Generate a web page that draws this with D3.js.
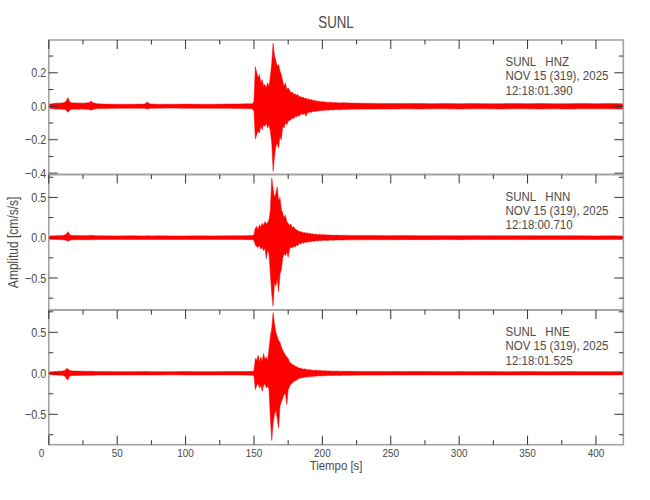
<!DOCTYPE html>
<html><head><meta charset="utf-8">
<script src="https://cdn.jsdelivr.net/npm/d3@7"></script>
<style>
html,body{margin:0;padding:0;background:#fff;}
svg{display:block;}
text{font-family:"Liberation Sans",Arial,sans-serif;fill:#4a4a4a;}
</style></head><body>
<svg id="chart" width="650" height="500"></svg>
<script>
// ---------------- data ----------------
const station = "SUNL";
const channels = ["HNZ", "HNN", "HNE"];
const dateLabel = "NOV 15 (319), 2025";
const startTimes = ["12:18:01.390", "12:18:00.710", "12:18:01.525"];
const xTickValues = [0, 50, 100, 150, 200, 250, 300, 350, 400];
const xMinorTicks = [25, 75, 125, 175, 225, 275, 325, 375];
const yTickValues = [[-0.4, -0.2, 0.0, 0.2], [-0.5, 0.0, 0.5], [-0.5, 0.0, 0.5]];
const yMinorTicks = [[-0.3, -0.1, 0.1, 0.3], [-0.75, -0.25, 0.25, 0.75], [-0.75, -0.25, 0.25, 0.75]];
const xDomain = [0, 420];
const yDomains = [[-0.408, 0.396], [-0.897, 0.784], [-0.871, 0.772]];

// sample times (s) of the amplitude envelope read from the record
const times = [
  0, 5, 10, 12, 13, 14, 15, 16, 18, 20, 25, 30, 31, 32, 35, 40, 50, 60, 70, 72, 74, 80, 90, 100, 110, 120, 130, 140, 145, 148,
  149, 150, 151, 152, 153, 154, 155, 156, 157, 158, 159, 160, 161, 162, 163, 164, 165, 166, 167, 168, 169, 170, 171, 172, 173, 174,
  175, 176, 177, 178, 179, 180, 181, 182, 183, 184, 185, 186, 187, 188, 189, 190, 191, 192, 193, 194, 195, 196, 197, 198, 199, 200,
  202, 204, 206, 208, 210, 212, 215,
  220, 230, 240, 250, 260, 270, 280, 290, 300, 310, 320, 330, 340, 350, 360, 370, 380, 390, 400, 410, 420
];

// HNZ envelope (cm/s/s)
const hnzHigh = [
  0.012, 0.018, 0.02, 0.025, 0.035, 0.052, 0.03, 0.022, 0.02, 0.02, 0.018, 0.022, 0.032, 0.022, 0.015, 0.013, 0.012, 0.012, 0.013, 0.024, 0.014, 0.012, 0.012, 0.013, 0.012, 0.012, 0.013, 0.014, 0.015, 0.015,
  0.015, 0.03, 0.236, 0.2, 0.17, 0.19, 0.14, 0.16, 0.12, 0.13, 0.11, 0.14, 0.12, 0.18, 0.26, 0.376, 0.3, 0.27, 0.24, 0.25, 0.21, 0.19, 0.15, 0.12, 0.14, 0.1,
  0.11, 0.096, 0.08, 0.085, 0.07, 0.075, 0.065, 0.07, 0.055, 0.06, 0.05, 0.055, 0.045, 0.05, 0.04, 0.045, 0.038, 0.04, 0.035, 0.037, 0.03, 0.033, 0.028, 0.03, 0.026, 0.027,
  0.025, 0.023, 0.024, 0.021, 0.022, 0.02, 0.021,
  0.019, 0.018, 0.017, 0.016, 0.017, 0.016, 0.015, 0.016, 0.015, 0.016, 0.015, 0.015, 0.016, 0.015, 0.016, 0.015, 0.015, 0.016, 0.015, 0.016, 0.015
];
const hnzLow = [
  -0.012, -0.016, -0.018, -0.02, -0.025, -0.036, -0.028, -0.02, -0.018, -0.018, -0.016, -0.02, -0.024, -0.02, -0.014, -0.013, -0.012, -0.012, -0.012, -0.016, -0.012, -0.012, -0.011, -0.012, -0.012, -0.012, -0.012, -0.013, -0.014, -0.015,
  -0.015, -0.03, -0.196, -0.17, -0.15, -0.16, -0.12, -0.14, -0.11, -0.12, -0.1, -0.13, -0.11, -0.15, -0.22, -0.39, -0.3, -0.24, -0.22, -0.25, -0.18, -0.2, -0.12, -0.13, -0.1, -0.11,
  -0.09, -0.084, -0.08, -0.07, -0.075, -0.06, -0.065, -0.055, -0.06, -0.05, -0.045, -0.05, -0.04, -0.06, -0.04, -0.038, -0.035, -0.037, -0.03, -0.032, -0.03, -0.028, -0.029, -0.026, -0.025, -0.026,
  -0.023, -0.024, -0.021, -0.022, -0.02, -0.021, -0.019,
  -0.018, -0.017, -0.016, -0.016, -0.015, -0.016, -0.015, -0.015, -0.016, -0.015, -0.015, -0.016, -0.015, -0.015, -0.016, -0.015, -0.016, -0.015, -0.015, -0.015, -0.016
];

// HNN envelope (cm/s/s)
const hnnHigh = [
  0.02, 0.025, 0.028, 0.035, 0.05, 0.075, 0.045, 0.03, 0.028, 0.026, 0.025, 0.027, 0.03, 0.026, 0.024, 0.023, 0.022, 0.023, 0.022, 0.025, 0.022, 0.023, 0.022, 0.022, 0.023, 0.022, 0.023, 0.024, 0.025, 0.028,
  0.028, 0.04, 0.12, 0.14, 0.1, 0.16, 0.13, 0.18, 0.15, 0.2, 0.17, 0.19, 0.22, 0.35, 0.74, 0.6, 0.5, 0.55, 0.63, 0.45, 0.5, 0.35, 0.3, 0.25, 0.28, 0.2,
  0.18, 0.15, 0.17, 0.12, 0.14, 0.11, 0.1, 0.09, 0.08, 0.07, 0.075, 0.06, 0.065, 0.055, 0.06, 0.05, 0.055, 0.045, 0.05, 0.04, 0.045, 0.04, 0.038, 0.04, 0.035, 0.038,
  0.035, 0.033, 0.034, 0.03, 0.032, 0.029, 0.03,
  0.028, 0.027, 0.026, 0.025, 0.026, 0.024, 0.025, 0.024, 0.024, 0.025, 0.023, 0.024, 0.023, 0.024, 0.023, 0.023, 0.024, 0.023, 0.022, 0.023, 0.022
];
const hnnLow = [
  -0.02, -0.022, -0.025, -0.03, -0.035, -0.045, -0.035, -0.028, -0.026, -0.025, -0.024, -0.025, -0.027, -0.025, -0.022, -0.022, -0.021, -0.022, -0.021, -0.023, -0.021, -0.022, -0.021, -0.022, -0.022, -0.021, -0.022, -0.023, -0.024, -0.026,
  -0.026, -0.035, -0.09, -0.11, -0.12, -0.1, -0.14, -0.12, -0.16, -0.13, -0.26, -0.15, -0.2, -0.45, -0.7, -0.85, -0.55, -0.6, -0.5, -0.67, -0.45, -0.4, -0.25, -0.2, -0.22, -0.18,
  -0.24, -0.14, -0.12, -0.13, -0.1, -0.12, -0.09, -0.1, -0.07, -0.08, -0.06, -0.07, -0.055, -0.06, -0.05, -0.055, -0.045, -0.05, -0.04, -0.045, -0.04, -0.035, -0.04, -0.035, -0.038, -0.033,
  -0.032, -0.034, -0.03, -0.031, -0.029, -0.03, -0.028,
  -0.027, -0.026, -0.025, -0.025, -0.024, -0.024, -0.024, -0.023, -0.024, -0.023, -0.023, -0.022, -0.023, -0.023, -0.022, -0.022, -0.023, -0.022, -0.022, -0.022, -0.021
];

// HNE envelope (cm/s/s)
const hneHigh = [
  0.015, 0.022, 0.028, 0.035, 0.06, 0.05, 0.04, 0.03, 0.028, 0.027, 0.025, 0.024, 0.026, 0.024, 0.022, 0.021, 0.02, 0.02, 0.021, 0.022, 0.02, 0.02, 0.02, 0.021, 0.02, 0.02, 0.021, 0.021, 0.022, 0.024,
  0.025, 0.03, 0.18, 0.16, 0.22, 0.14, 0.2, 0.15, 0.24, 0.17, 0.2, 0.16, 0.3, 0.45, 0.55, 0.74, 0.6, 0.5, 0.45, 0.4, 0.38, 0.32, 0.28, 0.25, 0.22, 0.2,
  0.18, 0.14, 0.12, 0.11, 0.1, 0.09, 0.08, 0.075, 0.06, 0.065, 0.055, 0.05, 0.055, 0.045, 0.05, 0.04, 0.045, 0.04, 0.038, 0.035, 0.04, 0.035, 0.033, 0.035, 0.03, 0.032,
  0.03, 0.028, 0.029, 0.026, 0.027, 0.025, 0.025,
  0.024, 0.023, 0.022, 0.022, 0.021, 0.022, 0.021, 0.02, 0.021, 0.02, 0.021, 0.02, 0.02, 0.021, 0.02, 0.02, 0.021, 0.02, 0.02, 0.02, 0.021
];
const hneLow = [
  -0.015, -0.02, -0.025, -0.04, -0.07, -0.08, -0.04, -0.03, -0.027, -0.026, -0.025, -0.024, -0.025, -0.023, -0.022, -0.021, -0.02, -0.02, -0.02, -0.021, -0.02, -0.02, -0.019, -0.02, -0.02, -0.02, -0.02, -0.021, -0.022, -0.024,
  -0.025, -0.03, -0.2, -0.15, -0.12, -0.18, -0.14, -0.22, -0.15, -0.13, -0.18, -0.15, -0.2, -0.55, -0.82, -0.6, -0.5, -0.45, -0.55, -0.67, -0.4, -0.35, -0.3, -0.26, -0.25, -0.38,
  -0.2, -0.16, -0.13, -0.12, -0.1, -0.09, -0.085, -0.07, -0.065, -0.055, -0.06, -0.05, -0.045, -0.05, -0.04, -0.045, -0.04, -0.038, -0.04, -0.035, -0.033, -0.035, -0.03, -0.032, -0.033, -0.03,
  -0.029, -0.027, -0.028, -0.026, -0.025, -0.026, -0.024,
  -0.023, -0.022, -0.022, -0.021, -0.021, -0.021, -0.02, -0.021, -0.02, -0.02, -0.02, -0.021, -0.02, -0.02, -0.02, -0.021, -0.02, -0.02, -0.02, -0.021, -0.02
];

const highs = [hnzHigh, hnnHigh, hneHigh];
const lows = [hnzLow, hnnLow, hneLow];

// ---------------- layout ----------------
const svg = d3.select("#chart");
const X0 = 48.8, X1 = 623.3;
const panelBounds = [[40, 174.5], [174.5, 310], [310, 444.7]];
const frameColor = "#a3a3a3", tickColor = "#333", traceColor = "#ff0000";

const x = d3.scaleLinear().domain(xDomain).range([X0, X1]);
const fmt = d3.format(".1f");

// narrow text: horizontally condensed via transform
function ntext(parent, px, py, str, size, sx, anchor) {
  return parent.append("text")
    .attr("transform", `translate(${px},${py}) scale(${sx},1)`)
    .attr("text-anchor", anchor || "start")
    .attr("xml:space", "preserve")
    .style("font-size", size + "px")
    .text(str);
}

channels.forEach((ch, i) => {
  const [top, bot] = panelBounds[i];
  const y = d3.scaleLinear().domain(yDomains[i]).range([bot, top]);
  const g = svg.append("g");
  const data = times.map((t, k) => ({t, hi: highs[i][k], lo: lows[i][k]}));

  const area = d3.area().x(d => x(d.t)).y0(d => y(d.lo)).y1(d => y(d.hi));
  g.append("path").datum(data).attr("d", area)
    .attr("fill", traceColor).attr("stroke", traceColor).attr("stroke-width", 0.5)
    .attr("stroke-linejoin", "round");

  // frame
  g.append("rect").attr("x", X0).attr("y", top).attr("width", X1 - X0).attr("height", bot - top)
    .attr("fill", "none").attr("stroke", frameColor).attr("stroke-width", 1.6);

  // y ticks (left and right, inward)
  const yt = g.append("g").attr("stroke", tickColor).attr("stroke-width", 1);
  yTickValues[i].forEach(v => {
    yt.append("line").attr("x1", X0).attr("x2", X0 + 9).attr("y1", y(v)).attr("y2", y(v));
    yt.append("line").attr("x1", X1).attr("x2", X1 - 9).attr("y1", y(v)).attr("y2", y(v));
  });
  yMinorTicks[i].forEach(v => {
    yt.append("line").attr("x1", X0).attr("x2", X0 + 4.5).attr("y1", y(v)).attr("y2", y(v));
    yt.append("line").attr("x1", X1).attr("x2", X1 - 4.5).attr("y1", y(v)).attr("y2", y(v));
  });

  // y tick labels
  const yl = g.append("g");
  yTickValues[i].forEach(v => {
    ntext(yl, X0 - 2.5, y(v) + 4.6, fmt(v), 13, 0.83, "end");
  });

  // x ticks (top inward; bottom inward on last panel)
  const xt = g.append("g").attr("stroke", tickColor).attr("stroke-width", 1);
  xTickValues.forEach(v => {
    xt.append("line").attr("x1", x(v)).attr("x2", x(v)).attr("y1", top).attr("y2", top + 9);
    if (i === 2) xt.append("line").attr("x1", x(v)).attr("x2", x(v)).attr("y1", bot).attr("y2", bot - 9);
  });
  xMinorTicks.forEach(v => {
    xt.append("line").attr("x1", x(v)).attr("x2", x(v)).attr("y1", top).attr("y2", top + 4.5);
    if (i === 2) xt.append("line").attr("x1", x(v)).attr("x2", x(v)).attr("y1", bot).attr("y2", bot - 4.5);
  });

  // annotation
  const ann = g.append("g");
  const lines = [station + "   " + ch, dateLabel, startTimes[i]];
  lines.forEach((s, k) => {
    ntext(ann, 505.5, top + 26 + k * 14.4, s, 12.8, 0.9, "start");
  });
});

// x tick labels
const bottom = panelBounds[2][1];
const xl = svg.append("g");
xTickValues.forEach(v => {
  if (v === 0) ntext(xl, x(v) - 4.5, bottom + 11.8, String(v), 11.6, 0.86, "end");
  else ntext(xl, x(v), bottom + 11.8, String(v), 11.6, 0.86, "middle");
});

// axis titles
ntext(svg, (X0 + X1) / 2, 469.5, "Tiempo [s]", 12, 0.95, "middle");
svg.append("text")
  .attr("transform", `translate(18,${(40 + 444.7) / 2}) rotate(-90) scale(0.86,1)`)
  .attr("text-anchor", "middle").style("font-size", "14px")
  .text("Amplitud [cm/s/s]");
ntext(svg, (X0 + X1) / 2, 28, station, 16, 0.83, "middle");
</script>
</body></html>
